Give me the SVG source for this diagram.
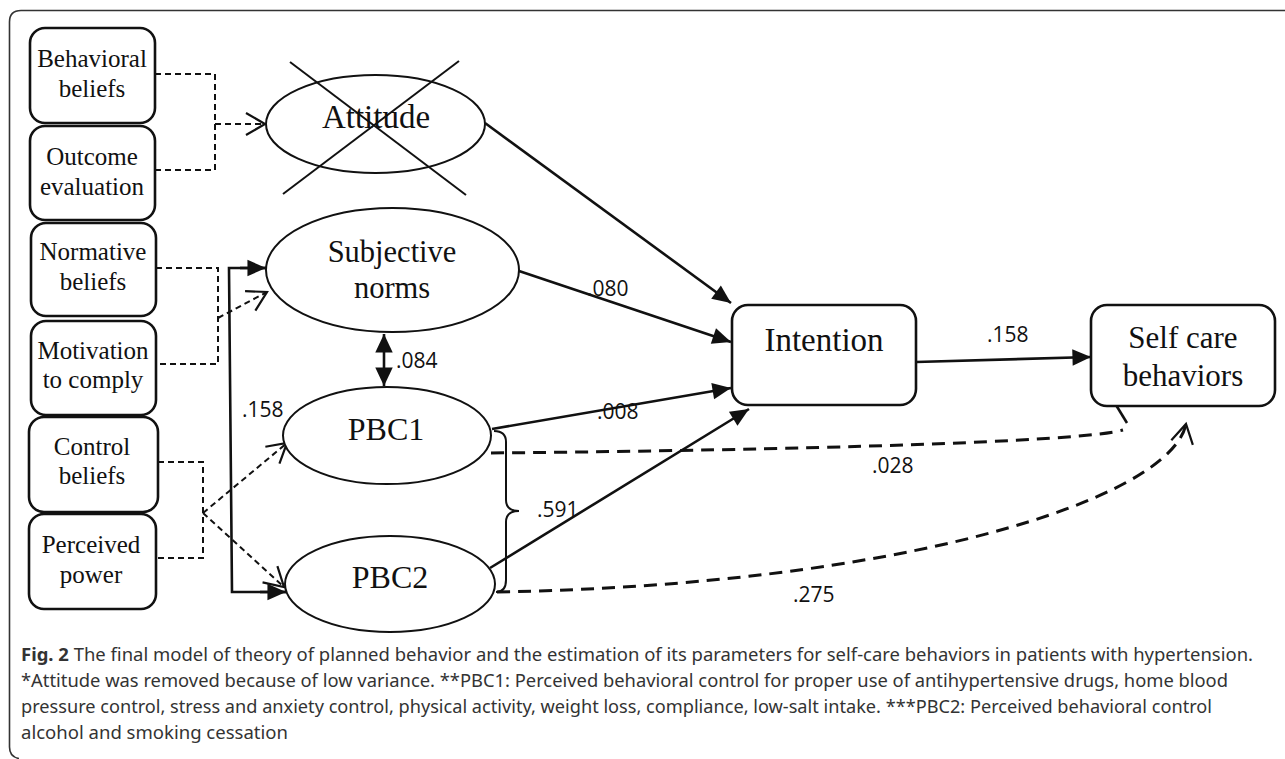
<svg xmlns="http://www.w3.org/2000/svg" width="1285" height="759" viewBox="0 0 1285 759">
<style>
  .bx { fill: #fff; stroke: #111; stroke-width: 2.6; }
  .el { fill: #fff; stroke: #111; stroke-width: 2; }
  .serif { font-family: "Liberation Serif", "Times New Roman", serif; fill: #111; text-anchor: middle; }
  .lbl { font-family: "Open Sans", "Liberation Sans", sans-serif; font-size: 21px; fill: #111; }
  .sol { fill: none; stroke: #111; stroke-width: 2.6; }
  .dsm { fill: none; stroke: #111; stroke-width: 2; stroke-dasharray: 6 4; }
  .dlg { fill: none; stroke: #111; stroke-width: 3; stroke-dasharray: 13 8; }
  .cap { font-family: "Noto Sans", "Open Sans", sans-serif; font-size: 17.6px; fill: #333; }
</style>
<defs>
  <marker id="fa" markerUnits="userSpaceOnUse" markerWidth="24" markerHeight="24" viewBox="-20 -10 22 20" refX="0" refY="0" orient="auto" overflow="visible">
    <path d="M -17 -7.5 L 0 0 L -17 7.5 Z" fill="#111" stroke="none"/>
  </marker>
  <marker id="fa2" markerUnits="userSpaceOnUse" markerWidth="24" markerHeight="24" viewBox="-20 -10 22 20" refX="0" refY="0" orient="auto-start-reverse" overflow="visible">
    <path d="M -17 -8 L 0 0 L -17 8 Z" fill="#111" stroke="none"/>
  </marker>
  <marker id="oa" markerUnits="userSpaceOnUse" markerWidth="30" markerHeight="30" viewBox="-25 -15 30 30" refX="0" refY="0" orient="auto" overflow="visible">
    <path d="M -19 -11 L 0 0 L -19 11" fill="none" stroke="#111" stroke-width="2.2" stroke-dasharray="none"/>
  </marker>
</defs>

<rect x="0" y="0" width="1285" height="759" fill="#fff"/>
<path d="M 1285 10.5 H 21 Q 9.5 10.5 9.5 22 V 747 Q 9.5 757 19 758.5" fill="none" stroke="#333" stroke-width="1.6"/>

<g id="connectors">
  <!-- Behavioral / Outcome to Attitude -->
  <path class="dsm" d="M 155 74 H 215 V 170 H 155"/>
  <path class="dsm" d="M 215 124 H 265" marker-end="url(#oa)"/>
  <!-- Normative / Motivation to Subjective norms -->
  <path class="dsm" d="M 156 268 H 218 V 364 H 156"/>
  <path class="dsm" d="M 218 318 L 267 292" marker-end="url(#oa)"/>
  <!-- Control / Perceived power to PBC1, PBC2 -->
  <path class="dsm" d="M 148 462 H 203 V 558 H 147"/>
  <path class="dsm" d="M 203 513 L 287 443" marker-end="url(#oa)"/>
  <path class="dsm" d="M 203 513 L 284 587" marker-end="url(#oa)"/>
  <!-- .158 bracket arrow -->
  <path class="sol" d="M 266 268 H 229 L 232 592 H 286" stroke-width="2.2"/>
  <path class="sol" d="M 240 268 H 266" marker-end="url(#fa)" stroke-width="2.2"/>
  <path class="sol" d="M 260 592 H 286" marker-end="url(#fa)" stroke-width="2.2"/>
  <!-- Subjective <-> PBC1 -->
  <line class="sol" x1="384" y1="334" x2="384" y2="386" marker-start="url(#fa2)" marker-end="url(#fa2)"/>
  <!-- to Intention -->
  <line class="sol" x1="485" y1="123" x2="731" y2="303" marker-end="url(#fa)"/>
  <line class="sol" x1="519" y1="271" x2="731" y2="342" marker-end="url(#fa)"/>
  <line class="sol" x1="492" y1="429" x2="731" y2="388" marker-end="url(#fa)"/>
  <line class="sol" x1="490" y1="568" x2="749" y2="409" marker-end="url(#fa)"/>
  <!-- Intention to Self care -->
  <line class="sol" x1="916" y1="362" x2="1091" y2="357" marker-end="url(#fa)"/>
  <!-- brace -->
  <path fill="none" stroke="#111" stroke-width="2" d="M 494 431 Q 506 431 506 442 V 500 Q 506 511 519 511 Q 506 511 506 522 V 580 Q 506 592 496 592"/>
  <!-- PBC1 to Self care (dashed) -->
  <path class="dlg" d="M 491 453 C 800 450, 1080 442, 1123 430"/>
  <line x1="1116" y1="405" x2="1127" y2="423" stroke="#111" stroke-width="2.6"/>
  <!-- PBC2 to Self care (dashed) -->
  <path class="dlg" d="M 497 592 C 900 585, 1170 500, 1186 424" marker-end="url(#oa)"/>
</g>

<g id="labels">
  <text class="lbl" x="242" y="417">.158</text>
  <text class="lbl" x="396" y="368">.084</text>
  <text class="lbl" x="587" y="296">.080</text>
  <text class="lbl" x="597" y="419">.008</text>
  <text class="lbl" x="537" y="517">.591</text>
  <text class="lbl" x="987" y="342">.158</text>
  <text class="lbl" x="872" y="473">.028</text>
  <text class="lbl" x="793" y="602">.275</text>
</g>

<g id="behavioral-beliefs">
  <rect class="bx" x="30" y="28" width="125" height="95" rx="15"/>
  <text class="serif" font-size="25" x="92" y="67">Behavioral</text>
  <text class="serif" font-size="25" x="92" y="97">beliefs</text>
</g>
<g id="outcome-evaluation">
  <rect class="bx" x="30" y="126" width="125" height="94" rx="15"/>
  <text class="serif" font-size="25" x="92" y="165">Outcome</text>
  <text class="serif" font-size="25" x="92" y="195">evaluation</text>
</g>
<g id="normative-beliefs">
  <rect class="bx" x="31" y="223" width="125" height="93" rx="15"/>
  <text class="serif" font-size="25" x="93" y="260">Normative</text>
  <text class="serif" font-size="25" x="93" y="290">beliefs</text>
</g>
<g id="motivation-to-comply">
  <rect class="bx" x="31" y="321" width="125" height="94" rx="15"/>
  <text class="serif" font-size="25" x="93" y="359">Motivation</text>
  <text class="serif" font-size="25" x="93" y="388">to comply</text>
</g>
<g id="control-beliefs">
  <rect class="bx" x="29" y="417" width="129" height="95" rx="15"/>
  <text class="serif" font-size="25" x="92" y="455">Control</text>
  <text class="serif" font-size="25" x="92" y="484">beliefs</text>
</g>
<g id="perceived-power">
  <rect class="bx" x="29" y="514" width="127" height="95" rx="15"/>
  <text class="serif" font-size="25" x="91" y="553">Perceived</text>
  <text class="serif" font-size="25" x="91" y="583">power</text>
</g>

<g id="attitude">
  <ellipse class="el" cx="375.5" cy="124" rx="109.5" ry="49"/>
  <text class="serif" font-size="33" x="376" y="128">Attitude</text>
  <line x1="290" y1="62" x2="466" y2="195" stroke="#111" stroke-width="2"/>
  <line x1="459" y1="61" x2="283" y2="194" stroke="#111" stroke-width="2"/>
</g>
<g id="subjective-norms">
  <ellipse class="el" cx="392.5" cy="270" rx="126.5" ry="62"/>
  <text class="serif" font-size="30.5" x="392" y="262">Subjective</text>
  <text class="serif" font-size="30.5" x="392" y="298">norms</text>
</g>
<g id="pbc1">
  <ellipse class="el" cx="387" cy="435.5" rx="104" ry="48.5"/>
  <text class="serif" font-size="32" x="386" y="440">PBC1</text>
</g>
<g id="pbc2">
  <ellipse class="el" cx="390" cy="584" rx="105" ry="48"/>
  <text class="serif" font-size="32" x="390" y="588">PBC2</text>
</g>
<g id="intention">
  <rect class="bx" x="732" y="305" width="184" height="100" rx="16"/>
  <text class="serif" font-size="33" x="824" y="351">Intention</text>
</g>
<g id="self-care-behaviors">
  <rect class="bx" x="1091" y="305" width="184" height="101" rx="16"/>
  <text class="serif" font-size="31" x="1183" y="348">Self care</text>
  <text class="serif" font-size="31" x="1183" y="386">behaviors</text>
</g>

<g id="caption">
  <text class="cap" x="21" y="661" textLength="1232" lengthAdjust="spacingAndGlyphs"><tspan font-weight="bold">Fig. 2</tspan> The final model of theory of planned behavior and the estimation of its parameters for self-care behaviors in patients with hypertension.</text>
  <text class="cap" x="21" y="687" textLength="1207" lengthAdjust="spacingAndGlyphs">*Attitude was removed because of low variance. **PBC1: Perceived behavioral control for proper use of antihypertensive drugs, home blood</text>
  <text class="cap" x="21" y="713" textLength="1191" lengthAdjust="spacingAndGlyphs">pressure control, stress and anxiety control, physical activity, weight loss, compliance, low-salt intake. ***PBC2: Perceived behavioral control</text>
  <text class="cap" x="21" y="739" textLength="267" lengthAdjust="spacingAndGlyphs">alcohol and smoking cessation</text>
</g>
</svg>
